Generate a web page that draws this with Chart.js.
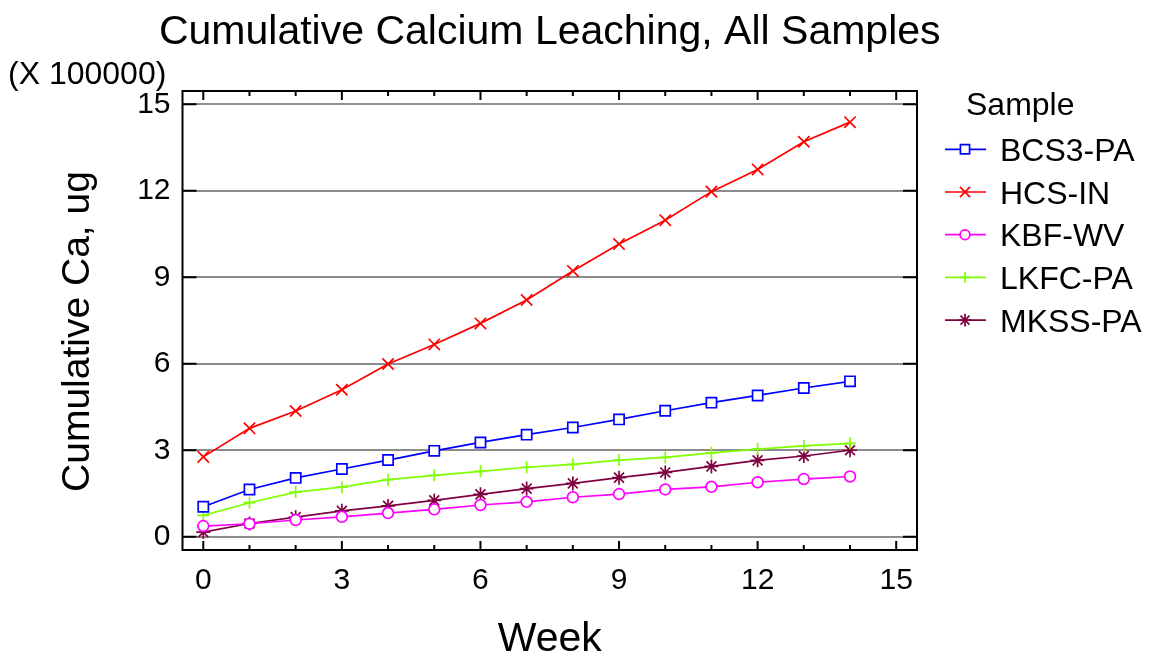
<!DOCTYPE html>
<html><head><meta charset="utf-8">
<script src="https://cdn.jsdelivr.net/npm/chart.js@4.4.1/dist/chart.umd.min.js"></script>
<style>html,body{margin:0;padding:0;background:#fff;overflow:hidden}#wrap{width:1154px;height:658px}</style>
</head><body><div id="wrap"><canvas id="c" width="1154" height="658"></canvas></div>
<script>
const TITLE = 'Cumulative Calcium Leaching, All Samples';
const Y_MULT_LABEL = '(X 100000)';
const X_TITLE = 'Week';
const Y_TITLE = 'Cumulative Ca, ug';
const LEGEND_TITLE = 'Sample';

const WEEKS = [0,1,2,3,4,5,6,7,8,9,10,11,12,13,14];
const SERIES_NAMES = ['BCS3-PA','HCS-IN','KBF-WV','LKFC-PA','MKSS-PA'];
// values in units of 100000 ug
const BCS3_PA = [1.04,1.64,2.04,2.35,2.66,2.98,3.27,3.54,3.79,4.07,4.37,4.65,4.90,5.16,5.39];
const HCS_IN  = [2.77,3.76,4.36,5.10,5.99,6.67,7.40,8.21,9.22,10.15,10.98,11.97,12.74,13.70,14.38];
const KBF_WV  = [0.37,0.45,0.58,0.69,0.82,0.95,1.10,1.21,1.37,1.48,1.64,1.73,1.89,2.00,2.09];
const LKFC_PA = [0.74,1.18,1.55,1.72,1.98,2.13,2.27,2.41,2.51,2.66,2.75,2.91,3.04,3.15,3.24];
const MKSS_PA = [0.16,0.46,0.68,0.90,1.07,1.26,1.47,1.67,1.85,2.05,2.23,2.44,2.65,2.80,3.00];

const X_TICKS = [0,3,6,9,12,15];
const X_MINOR_TICKS = [0,1,2,3,4,5,6,7,8,9,10,11,12,13,14,15];
const Y_TICKS = [0,3,6,9,12,15];

const COLORS = ['#0000ff','#ff0000','#ff00ff','#80ff00','#800040'];
const STYLES = ['rect','crossRot','circle','cross','star'];
const RADII = [7.2,8,5.4,6,7];
const FONT = '"Liberation Sans", Arial, Helvetica, sans-serif';

const seriesValues = [BCS3_PA, HCS_IN, KBF_WV, LKFC_PA, MKSS_PA];

const datasets = SERIES_NAMES.map((name, i) => ({
  label: name,
  data: WEEKS.map((w, j) => ({x: w, y: seriesValues[i][j]})),
  borderColor: COLORS[i],
  backgroundColor: '#ffffff',
  borderWidth: 1.7,
  pointStyle: STYLES[i],
  pointRadius: RADII[i],
  pointBorderWidth: 1.7,
  pointBorderColor: COLORS[i],
  pointBackgroundColor: '#ffffff',
  tension: 0,
  fill: false
}));

const decorations = {
  id: 'decorations',
  beforeDraw(chart) {
    const c = chart.ctx;
    c.save(); c.fillStyle = '#fff'; c.fillRect(0, 0, chart.width, chart.height); c.restore();
  },
  afterDraw(chart) {
    const c = chart.ctx, a = chart.chartArea, xs = chart.scales.x, ys = chart.scales.y;
    c.save();
    c.strokeStyle = '#000'; c.lineWidth = 2;
    c.strokeRect(a.left, a.top, a.right - a.left, a.bottom - a.top);
    Y_TICKS.forEach(v => {
      const py = ys.getPixelForValue(v);
      c.beginPath();
      c.moveTo(a.left, py); c.lineTo(a.left + 14, py);
      c.moveTo(a.right - 14, py); c.lineTo(a.right, py);
      c.stroke();
    });
    X_MINOR_TICKS.forEach(v => {
      const px = xs.getPixelForValue(v);
      const len = X_TICKS.includes(v) ? 9 : 5;
      c.beginPath();
      c.moveTo(px, a.bottom); c.lineTo(px, a.bottom - len);
      c.moveTo(px, a.top); c.lineTo(px, a.top + len);
      c.stroke();
    });
    c.fillStyle = '#000';
    c.textBaseline = 'alphabetic';
    c.font = '41px ' + FONT; c.textAlign = 'center';
    c.fillText(TITLE, (a.left + a.right) / 2, 44);
    c.font = '32px ' + FONT; c.textAlign = 'left';
    c.fillText(Y_MULT_LABEL, 8, 84);
    c.font = '41px ' + FONT; c.textAlign = 'center';
    c.fillText(X_TITLE, (a.left + a.right) / 2, 651);
    c.save();
    c.translate(89, 331.5); c.rotate(-Math.PI / 2);
    c.font = '39px ' + FONT; c.textAlign = 'center';
    c.fillText(Y_TITLE, 0, 0);
    c.restore();
    c.font = '32px ' + FONT; c.textAlign = 'left';
    c.fillText(LEGEND_TITLE, 966, 115);
    SERIES_NAMES.forEach((name, i) => {
      const ry = 149.3 + i * 42.7;
      c.strokeStyle = COLORS[i]; c.lineWidth = 1.7;
      c.beginPath(); c.moveTo(945, ry); c.lineTo(986, ry); c.stroke();
      c.fillStyle = '#fff';
      Chart.helpers.drawPoint(c, {pointStyle: STYLES[i], radius: RADII[i] * 0.9, rotation: 0, borderWidth: 1.7}, 965, ry);
      c.fillStyle = '#000';
      c.fillText(name, 1000, ry + 11.5);
    });
    c.restore();
  }
};

new Chart(document.getElementById('c'), {
  type: 'line',
  data: { datasets },
  options: {
    responsive: false,
    animation: false,
    devicePixelRatio: 1,
    layout: { padding: { top: 91, right: 237, left: 0, bottom: 0 } },
    plugins: { legend: { display: false }, title: { display: false }, tooltip: { enabled: false } },
    scales: {
      x: {
        type: 'linear', min: -0.45, max: 15.45,
        afterFit(s) { s.height = 108; },
        afterBuildTicks(s) { s.ticks = X_TICKS.map(v => ({value: v})); },
        grid: { display: false, drawTicks: false },
        border: { display: false },
        ticks: { color: '#000', padding: 13, maxRotation: 0, autoSkip: false, font: { family: FONT, size: 30 } }
      },
      y: {
        type: 'linear', min: -0.46, max: 15.46,
        afterFit(s) { s.width = 182.5; },
        afterBuildTicks(s) { s.ticks = Y_TICKS.map(v => ({value: v})); },
        grid: { color: '#8c8c8c', lineWidth: 2, drawTicks: false },
        border: { display: false },
        ticks: { color: '#000', padding: 12, font: { family: FONT, size: 30 } }
      }
    }
  },
  plugins: [decorations]
});
</script>
</body></html>
